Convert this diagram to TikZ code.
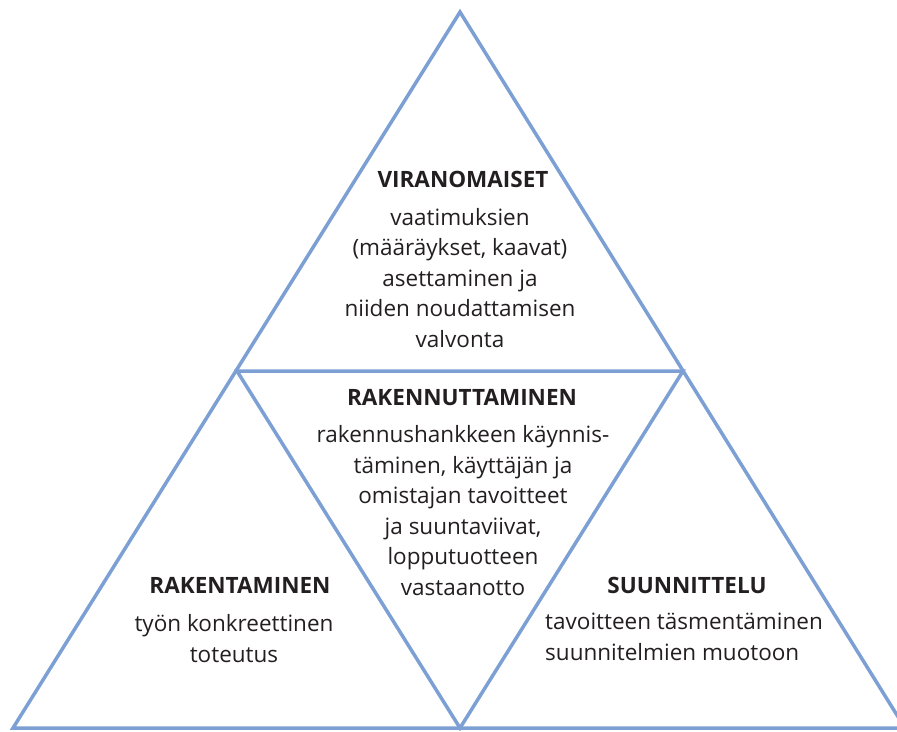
\documentclass[tikz,border=0pt]{standalone}
\usepackage{fontspec}
\setmainfont{Open Sans}
\usetikzlibrary{positioning}
\definecolor{edgeblue}{RGB}{125,160,212}
\definecolor{inkdark}{RGB}{35,31,32}

\begin{document}
\begin{tikzpicture}[x=1pt, y=-1pt,
    edge/.style={draw=edgeblue, line width=3.5pt, line join=miter},
    head/.style={font=\fontsize{22.5}{30.5}\selectfont\bfseries, text=inkdark, inner sep=0pt, anchor=base},
    body/.style={font=\fontsize{22.5}{30.5}\selectfont, text=inkdark, inner sep=0pt, align=center, anchor=base},
  ]
  \useasboundingbox (0,0) rectangle (897,731);
  % corners of the big triangle and of the inner one
  \coordinate (apex) at (460,12);
  \coordinate (bl) at (13,728);
  \coordinate (br) at (905,728);
  \coordinate (ml) at (237,371);
  \coordinate (mr) at (683,371);
  \coordinate (mb) at (460,728);
  \draw[edge] (apex) -- (bl) -- (br) -- cycle;
  \draw[edge] (ml) -- (mr) -- (mb) -- cycle;
  % top (body nodes sit on the baseline of their last line)
  \node[head] (viranHead) at (463,187) {VIRANOMAISET};
  \node[body] (viranText) at (460,347) {vaatimuksien\\(määräykset, kaavat)\\asettaminen ja\\niiden noudattamisen\\valvonta};
  % middle
  \node[head] (rakennutHead) at (462,405) {RAKENNUTTAMINEN};
  \node[body] (rakennutText) at (463,595) {rakennushankkeen käynnis-\\täminen, käyttäjän ja\\omistajan tavoitteet\\ja suuntaviivat,\\lopputuotteen\\vastaanotto};
  % left
  \node[head] (rakentHead) at (240,593) {RAKENTAMINEN};
  \node[body] (rakentText) at (234,662) {työn konkreettinen\\toteutus};
  % right
  \node[head] (suunHead) at (687,593) {SUUNNITTELU};
  \node[body, align=left, anchor=base west] (suunText) at (545,660) {tavoitteen täsmentäminen\\suunnitelmien muotoon};
\end{tikzpicture}
\end{document}
